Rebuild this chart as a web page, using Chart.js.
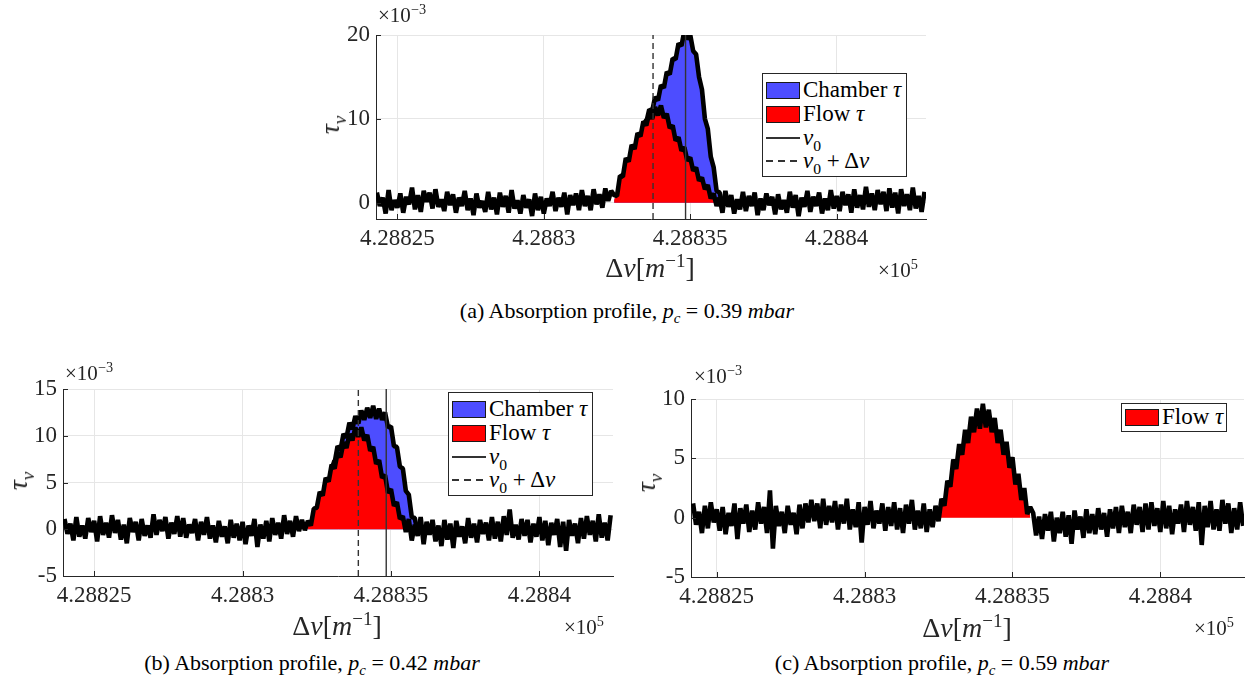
<!DOCTYPE html>
<html>
<head>
<meta charset="utf-8">
<script src="https://cdn.jsdelivr.net/npm/chart.js@4.4.0/dist/chart.umd.min.js"></script>
<style>
body { margin:0; width:1254px; height:684px; background:#fff; position:relative; overflow:hidden;
       font-family:'Liberation Serif','DejaVu Serif',serif; color:#262626; }
canvas { position:absolute; }
sup, sub { font-size:68%; line-height:0; }
.t { position:absolute; white-space:nowrap; line-height:1; }
.ttl { font-size:28px; transform:translate(-50%,-50%); }
.ytl { font-size:28px; transform:translate(-50%,-50%) rotate(-90deg); }
.mul { font-size:21px; transform:translateY(-50%); }
.cap { font-size:22px; color:#000; transform:translate(-50%,-50%); }
.legend { position:absolute; border:1.5px solid #262626; background:#fff; box-sizing:border-box; }
.sw { position:absolute; left:3px; width:34px; height:17px; border:1.5px solid #1a1a1a; box-sizing:border-box; }
.ln { position:absolute; left:3px; width:34px; height:1.5px; }
.lt { position:absolute; left:40px; font-size:23px; line-height:24px; white-space:nowrap; color:#000; }
</style>
</head>
<body>
<canvas id="chartA"></canvas>
<canvas id="chartB"></canvas>
<canvas id="chartC"></canvas>

<!-- (a) labels -->
<div class="t mul" style="left:378px;top:15px">×10<sup>−3</sup></div>
<div class="t ttl" style="left:650px;top:268px">Δ<i>ν</i>[<i>m</i><sup>−1</sup>]</div>
<div class="t mul" style="left:878px;top:270px">×10<sup>5</sup></div>
<div class="t ytl" style="left:330px;top:125px"><i>τ<sub>ν</sub></i></div>
<div class="t cap" style="left:627px;top:311px">(a) Absorption profile, <i>p<sub>c</sub></i> = 0.39 <i>mbar</i></div>
<div class="legend" style="left:762px;top:73px;width:145px;height:104px">
  <div class="sw" style="top:8px;background:#4d4dff"></div><div class="lt" style="top:4px">Chamber <i>τ</i></div>
  <div class="sw" style="top:32px;background:#ff0000"></div><div class="lt" style="top:28px">Flow <i>τ</i></div>
  <div class="ln" style="top:63px;background:#333"></div><div class="lt" style="top:52px"><i>ν</i><sub>0</sub></div>
  <div class="ln" style="top:86px;background:repeating-linear-gradient(90deg,#333 0 7px,transparent 7px 12px)"></div><div class="lt" style="top:75px"><i>ν</i><sub>0</sub> + Δ<i>ν</i></div>
</div>

<!-- (b) labels -->
<div class="t mul" style="left:65px;top:373px">×10<sup>−3</sup></div>
<div class="t ttl" style="left:337px;top:626px">Δ<i>ν</i>[<i>m</i><sup>−1</sup>]</div>
<div class="t mul" style="left:564px;top:627px">×10<sup>5</sup></div>
<div class="t ytl" style="left:18px;top:481px"><i>τ<sub>ν</sub></i></div>
<div class="t cap" style="left:312px;top:663px">(b) Absorption profile, <i>p<sub>c</sub></i> = 0.42 <i>mbar</i></div>
<div class="legend" style="left:448px;top:392px;width:145px;height:104px">
  <div class="sw" style="top:8px;background:#4d4dff"></div><div class="lt" style="top:4px">Chamber <i>τ</i></div>
  <div class="sw" style="top:32px;background:#ff0000"></div><div class="lt" style="top:28px">Flow <i>τ</i></div>
  <div class="ln" style="top:63px;background:#333"></div><div class="lt" style="top:52px"><i>ν</i><sub>0</sub></div>
  <div class="ln" style="top:86px;background:repeating-linear-gradient(90deg,#333 0 7px,transparent 7px 12px)"></div><div class="lt" style="top:75px"><i>ν</i><sub>0</sub> + Δ<i>ν</i></div>
</div>

<!-- (c) labels -->
<div class="t mul" style="left:694px;top:376px">×10<sup>−3</sup></div>
<div class="t ttl" style="left:967px;top:628px">Δ<i>ν</i>[<i>m</i><sup>−1</sup>]</div>
<div class="t mul" style="left:1194px;top:628px">×10<sup>5</sup></div>
<div class="t ytl" style="left:646px;top:483px"><i>τ<sub>ν</sub></i></div>
<div class="t cap" style="left:942px;top:663px">(c) Absorption profile, <i>p<sub>c</sub></i> = 0.59 <i>mbar</i></div>
<div class="legend" style="left:1121px;top:403px;width:106px;height:29px">
  <div class="sw" style="top:4.5px;background:#ff0000"></div><div class="lt" style="top:1px">Flow <i>τ</i></div>
</div>

<script>
// axis ticks (x values are in m^-1, labels shown x10^5)
var xTickValues = [428825, 428830, 428835, 428840];
var xTickLabels = ['4.28825', '4.2883', '4.28835', '4.2884'];
var yTicksA = [0, 10, 20];
var yTicksB = [-5, 0, 5, 10, 15];
var yTicksC = [-5, 0, 5, 10];

// sample spacing of the measured traces
var STEP = 0.1;

// ---- (a) p_c = 0.39 mbar, tau in 1e-3 ----
var flowA_x0 = 428824.3;
var flowA = [
  1.2,-0.4,0.6,-1.3,1.5,-0.9,0.3,-0.6,1.1,-1.2,
  0.7,-0.2,1.8,-0.8,0.9,-1.1,1.4,0.1,1.2,-0.7,
  1.6,-0.5,0.4,-1.0,1.3,-0.3,1.0,-1.2,0.6,-0.4,
  1.4,-0.9,0.5,-1.5,1.1,-0.6,0.2,-1.1,1.3,-0.8,
  0.6,-1.4,1.2,-0.5,0.8,-1.2,1.5,-0.7,0.3,-1.3,
  0.9,-0.6,0.4,-1.6,1.1,-0.9,0.7,-1.3,0.5,-0.4,
  1.3,-1.0,0.6,-0.5,1.2,-1.4,0.9,-0.3,1.1,-0.9,
  1.5,-0.4,0.8,-0.9,1.6,-0.2,1.0,-0.6,1.7,0.2,1.4,
  0.9,0.8,3.2,3.1,5.3,4.9,6.9,6.4,8.3,7.9,
  9.7,9.2,10.7,10.0,11.4,10.4,11.6,10.1,10.6,8.9,
  9.2,7.4,7.8,6.2,6.6,5.0,5.4,3.8,4.2,2.6,
  3.0,1.6,2.1,0.5,1.1,-0.4,
  0.6,-1.2,1.4,-0.5,0.9,-1.3,0.4,-0.8,1.3,-1.0,
  0.8,-0.4,1.2,-1.5,0.5,-0.9,1.1,-0.3,0.7,-1.4,
  1.0,-0.8,0.3,-1.2,1.3,-0.6,0.9,-1.6,0.6,-0.5,
  1.4,-1.1,0.7,-0.4,1.2,-1.3,0.5,-0.9,1.5,-0.7,
  0.8,-1.0,1.3,-0.3,1.0,-1.2,1.6,-0.6,0.9,-0.8,
  1.9,-0.5,1.1,-0.9,1.5,-0.2,1.3,-1.0,1.7,-0.6,
  1.2,-1.3,1.6,-0.4,1.0,-0.9,1.8,-0.7,0.8,-1.1,1.3
];
var chamberA_x0 = 428833.4;
var chamberA = [
  9.8,9.6,11.1,10.9,12.6,12.2,14.0,13.7,15.6,15.3,
  17.2,17.1,19.0,18.7,20.5,19.5,20.0,18.1,17.7,15.0,
  13.5,10.0,8.8,5.5,4.2,1.4,1.2,-0.2,0.6
];
var fillA_x0 = 428832.4;
var flowFillA = [0.3,1.4,2.6,3.7,4.7,5.5,6.3,7.0,7.7,8.4,9.2,9.7,10.1,10.5,10.8,10.9,10.9,10.6,10.1,9.4,
  8.6,7.9,7.3,6.7,6.1,5.5,4.9,4.3,3.7,3.1,2.5,2.1,1.6,1.0,0.5,0.2];
var chamberFillA = [0.3,1.4,2.6,3.7,4.7,5.5,6.3,7.0,7.7,8.4,9.3,10.0,10.6,11.3,12.0,12.7,13.4,14.2,15.0,15.8,
  16.7,17.6,18.4,19.2,19.8,20.0,19.5,18.6,17.2,15.5,13.0,10.5,8.3,6.0,3.7,1.9,0.8,0.3];
var nu0A = 428834.84, nuShiftA = 428833.73;

// ---- (b) p_c = 0.42 mbar ----
var flowB_x0 = 428824.0;
var flowB = [
  1.1,-0.5,0.6,-1.2,1.3,-0.8,0.4,-1.0,1.2,-0.3,
  0.9,-1.3,1.4,-0.6,0.7,-0.9,1.5,-0.4,1.0,-1.1,
  0.5,-1.5,1.2,-0.3,0.8,-1.2,1.1,-0.7,0.4,-0.9,
  1.6,-0.6,1.0,-0.2,1.3,-1.0,0.7,-0.5,1.4,-0.8,
  1.2,-0.9,0.5,-0.4,1.1,-1.2,0.8,-0.6,1.3,-1.0,
  0.4,-1.4,0.9,-0.8,0.3,-1.5,1.0,-0.9,0.6,-1.2,
  0.8,-1.6,0.4,-0.7,1.1,-1.9,0.5,-1.0,0.9,-1.3,
  1.2,-0.6,0.7,-1.0,1.5,-0.5,0.9,-0.8,1.4,-0.2,
  1.0,-0.1,
  0.9,0.4,2.2,2.3,4.0,3.6,5.5,5.1,6.9,6.5,
  8.2,7.7,9.3,8.7,10.2,9.5,10.9,9.9,10.9,9.5,
  10.1,8.4,8.8,7.0,7.4,5.5,5.8,3.9,4.3,2.5,
  2.9,1.1,1.4,-0.3,
  1.1,-1.2,0.5,-0.7,1.3,-1.6,0.8,-0.6,1.0,-1.3,
  0.4,-1.8,1.0,-1.1,0.6,-2.0,0.9,-0.8,0.3,-1.5,
  1.2,-0.9,0.6,-1.4,1.0,-0.5,0.7,-1.2,1.3,-1.0,
  0.8,-1.3,1.4,-0.6,2.1,-0.9,0.5,-1.1,1.1,-0.7,
  1.0,-1.4,0.6,-0.8,1.3,-1.2,0.9,-1.7,0.7,-0.6,
  1.1,-1.9,0.8,-2.3,1.0,-0.7,0.6,-1.5,1.2,-1.0,
  1.4,-0.6,0.9,-1.3,1.6,-0.9,0.7,-1.2,1.5
];
var chamberB_x0 = 428833.0;
var chamberB = [
  7.2,7.1,8.9,8.5,10.2,9.8,11.4,10.7,12.1,11.3,
  12.7,11.7,13.0,11.9,13.2,11.8,12.9,11.7,12.5,10.9,
  11.0,8.9,8.8,6.7,6.5,4.1,3.7,1.3,1.2,-0.4,0.5
];
var fillB_x0 = 428832.2;
var flowFillB = [0.3,0.9,1.6,2.8,3.4,4.1,4.9,5.6,6.3,7.0,7.6,8.2,8.7,9.2,9.6,10.0,10.3,10.4,10.3,10.0,
  9.5,8.9,8.2,7.5,6.8,6.0,5.2,4.4,3.7,3.0,2.3,1.6,0.9,0.3];
var chamberFillB = [0.3,0.9,1.6,2.8,3.4,4.1,4.9,5.6,6.8,7.6,8.3,9.0,9.7,10.3,10.8,11.2,11.5,11.8,12.0,12.2,
  12.3,12.4,12.5,12.4,12.3,12.2,11.9,11.4,10.5,9.4,8.3,7.2,6.0,4.6,3.2,1.8,0.7,0.1];
var nu0B = 428834.84, nuShiftB = 428833.9;

// ---- (c) p_c = 0.59 mbar ----
var flowC_x0 = 428824.2;
var flowC = [
  1.2,-0.6,0.5,-1.3,1.0,-0.9,1.3,-0.4,0.7,-1.1,
  0.9,-1.4,0.4,-0.7,1.2,-1.8,0.8,-0.5,1.1,-1.2,
  0.6,-1.0,1.3,-0.5,0.9,-1.3,2.3,-2.6,1.0,-0.7,
  0.5,-1.3,1.0,-0.6,0.4,-1.4,1.1,-0.9,1.2,-0.4,
  1.5,-0.3,1.2,-0.9,1.6,-0.6,1.0,-0.4,1.4,-1.0,
  1.1,-0.5,1.6,-1.0,0.7,-0.8,1.3,-2.1,0.9,-0.6,
  1.4,-0.9,0.6,-0.5,1.2,-1.1,0.9,-0.7,1.3,-1.0,
  0.8,-1.3,1.1,-0.5,1.5,-1.0,0.6,-0.9,1.2,-1.2,
  0.7,-0.8,1.0,
  -0.3,1.6,1.0,3.1,2.6,4.9,4.1,6.2,5.3,7.4,
  6.3,8.5,7.2,9.2,7.5,9.6,7.6,9.1,7.2,8.4,
  6.3,7.4,5.3,6.4,4.2,5.1,2.8,3.7,1.5,2.5,
  0.3,0.9,
  0.4,-1.5,0.1,-1.8,0.3,-1.1,0.5,-2.0,0.0,-1.3,
  0.5,-1.6,0.2,-2.2,0.6,-1.0,0.1,-1.7,0.7,-1.3,
  0.3,-1.4,0.8,-1.0,0.4,-1.6,0.7,-0.9,0.9,-1.3,
  1.0,-0.8,0.5,-1.3,1.1,-0.6,0.9,-1.2,1.2,-1.0,
  1.3,-0.7,0.8,-1.2,1.4,-0.9,1.0,-1.4,0.7,-0.5,
  1.1,-1.2,1.4,-0.6,0.9,-1.1,1.3,-2.3,1.0,-0.8,
  1.4,-1.0,0.7,-1.1,1.5,-0.5,1.2,-1.3,0.8,-1.0,1.3,-0.7
];
var fillC_x0 = 428832.5;
var flowFillC = [0.3,0.9,1.6,2.4,3.3,4.1,4.8,5.4,6.0,6.6,7.1,7.6,8.0,8.3,8.4,8.4,8.4,8.3,8.0,7.6,
  7.1,6.6,6.1,5.6,5.0,4.3,3.6,2.9,2.3,1.7,1.0,0.2];

var FONT = "'Liberation Serif', 'DejaVu Serif', serif";
var AXIS = '#262626';
var BLUE = '#4d4dff';
var RED = '#ff0000';

function toPoints(x0, vals) {
    return vals.map(function (v, i) {
        return { x: +(x0 + i * STEP).toFixed(2), y: v };
    });
}

// MATLAB style ticks pointing into the axes
var innerTicks = {
    id: 'innerTicks',
    afterDraw: function (chart) {
        var ctx = chart.ctx, a = chart.chartArea;
        var sx = chart.scales.x, sy = chart.scales.y;
        ctx.save();
        ctx.strokeStyle = AXIS;
        ctx.lineWidth = 1;
        ctx.beginPath();
        sx.ticks.forEach(function (t) {
            var px = Math.round(sx.getPixelForValue(t.value)) + 0.5;
            ctx.moveTo(px, a.bottom);
            ctx.lineTo(px, a.bottom - 5);
        });
        sy.ticks.forEach(function (t) {
            var py = Math.round(sy.getPixelForValue(t.value)) + 0.5;
            ctx.moveTo(a.left, py);
            ctx.lineTo(a.left + 5, py);
        });
        ctx.stroke();
        ctx.restore();
    }
};

function fillSet(x0, vals, color, order) {
    return { data: toPoints(x0, vals), fill: 'origin', backgroundColor: color,
             borderWidth: 0, pointRadius: 0, order: order };
}
function traceSet(x0, vals, order) {
    return { data: toPoints(x0, vals), fill: false, borderColor: '#000', borderWidth: 4.6,
             borderJoinStyle: 'bevel', pointRadius: 0, order: order };
}
function vlineSet(x, y0, y1, dash) {
    return { data: [{ x: x, y: y0 }, { x: x, y: y1 }], fill: false, borderColor: '#333',
             borderWidth: 1.4, borderDash: dash, pointRadius: 0, order: 0 };
}

function makeChart(id, box, xr, yr, yTicks, datasets) {
    var cv = document.getElementById(id);
    var W = box.w + 80, H = box.h + 65;
    cv.width = W; cv.height = H;
    cv.style.width = W + 'px'; cv.style.height = H + 'px';
    var tickFont = { family: FONT, size: 23 };
    var chart = new Chart(cv, {
        type: 'line',
        data: { datasets: datasets },
        options: {
            responsive: false,
            animation: false,
            layout: { padding: { top: 20, right: 10, left: 0, bottom: 0 } },
            plugins: { legend: { display: false }, tooltip: { enabled: false } },
            scales: {
                x: {
                    type: 'linear', min: xr[0], max: xr[1],
                    afterBuildTicks: function (s) { s.ticks = xTickValues.map(function (v) { return { value: v }; }); },
                    afterFit: function (s) { s.height = 45; },
                    grid: { color: '#e6e6e6', drawTicks: false },
                    border: { color: AXIS, width: 1 },
                    ticks: { font: tickFont, color: AXIS, padding: 6, maxRotation: 0, autoSkip: false,
                             callback: function (v, i) { return xTickLabels[i]; } }
                },
                y: {
                    type: 'linear', min: yr[0], max: yr[1],
                    afterBuildTicks: function (s) { s.ticks = yTicks.map(function (v) { return { value: v }; }); },
                    afterFit: function (s) { s.width = 70; },
                    grid: { color: '#e6e6e6', drawTicks: false },
                    border: { color: AXIS, width: 1 },
                    ticks: { font: tickFont, color: AXIS, padding: 6,
                             callback: function (v) { return String(v); } }
                }
            }
        },
        plugins: [innerTicks]
    });
    // place the canvas so that the plot area sits where the reference has it
    var a = chart.chartArea;
    cv.style.left = (box.l - a.left) + 'px';
    cv.style.top = (box.t - a.top) + 'px';
    return chart;
}

makeChart('chartA', { l: 376, t: 35, w: 550, h: 184 }, [428824.27, 428843.05], [-1.95, 20], yTicksA, [
    fillSet(fillA_x0, chamberFillA, BLUE, 6),
    fillSet(fillA_x0, flowFillA, RED, 5),
    traceSet(chamberA_x0, chamberA, 4),
    traceSet(flowA_x0, flowA, 3),
    vlineSet(nu0A, -1.95, 20, []),
    vlineSet(nuShiftA, -1.95, 20, [6, 4])
]);

makeChart('chartB', { l: 63, t: 389, w: 550, h: 187 }, [428823.95, 428842.48], [-5, 15], yTicksB, [
    fillSet(fillB_x0, chamberFillB, BLUE, 6),
    fillSet(fillB_x0, flowFillB, RED, 5),
    traceSet(chamberB_x0, chamberB, 4),
    traceSet(flowB_x0, flowB, 3),
    vlineSet(nu0B, -5, 15, []),
    vlineSet(nuShiftB, -5, 15, [6, 4])
]);

makeChart('chartC', { l: 691, t: 399, w: 553, h: 178 }, [428824.13, 428842.83], [-5, 10], yTicksC, [
    fillSet(fillC_x0, flowFillC, RED, 5),
    traceSet(flowC_x0, flowC, 3)
]);
</script>
</body>
</html>
